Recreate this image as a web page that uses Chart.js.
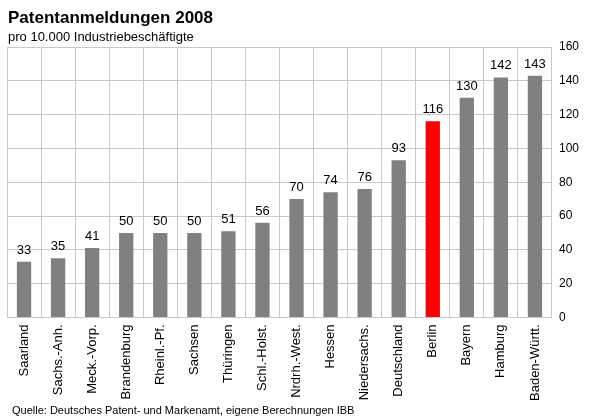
<!DOCTYPE html>
<html>
<head>
<meta charset="utf-8">
<script src="https://cdn.jsdelivr.net/npm/chart.js@4/dist/chart.umd.min.js"></script>
<style>
html,body{margin:0;padding:0;background:#fff;}
#wrap{width:592px;height:417px;position:relative;}
</style>
</head>
<body>
<div id="wrap"><canvas id="c" width="592" height="417"></canvas></div>
<script>
const categories = ["Saarland","Sachs.-Anh.","Meck.-Vorp.","Brandenburg","Rheinl.-Pf.","Sachsen","Thüringen","Schl.-Holst.","Nrdrh.-West.","Hessen","Niedersachs.","Deutschland","Berlin","Bayern","Hamburg","Baden-Württ."];
const values = [33,35,41,50,50,50,51,56,70,74,76,93,116,130,142,143];
const yTicks = [0,20,40,60,80,100,120,140,160];
const titleText = "Patentanmeldungen 2008";
const subtitleText = "pro 10.000 Industriebeschäftigte";
const sourceText = "Quelle: Deutsches Patent- und Markenamt, eigene Berechnungen IBB";
const highlight = "Berlin";

const FONT = "'Liberation Sans', Arial, sans-serif";
const barColors = categories.map(c => c === highlight ? "#ff0000" : "#808080");

const textPlugin = {
  id: 'texts',
  afterDraw(chart) {
    const ctx = chart.ctx;
    ctx.save();
    ctx.fillStyle = '#000';
    ctx.textBaseline = 'alphabetic';
    ctx.textAlign = 'left';
    ctx.font = "bold 17px " + FONT;
    ctx.fillText(titleText, 8, 23);
    ctx.font = "13px " + FONT;
    ctx.fillText(subtitleText, 8, 41);
    ctx.font = "11px " + FONT;
    ctx.fillText(sourceText, 12, 414);
    // data labels
    ctx.font = "13px " + FONT;
    ctx.textAlign = 'center';
    const meta = chart.getDatasetMeta(0);
    meta.data.forEach((bar, i) => {
      ctx.fillText(String(values[i]), bar.x, bar.y - 8);
    });
    ctx.restore();
  }
};

new Chart(document.getElementById('c'), {
  type: 'bar',
  data: {
    labels: categories,
    datasets: [{
      data: values,
      backgroundColor: barColors,
      borderWidth: 0,
      barPercentage: 0.42,
      categoryPercentage: 1.0
    }]
  },
  options: {
    responsive: false,
    animation: false,
    devicePixelRatio: 1,
    layout: { padding: { left: 7, right: 6, top: 47, bottom: 9 } },
    plugins: { legend: { display: false }, tooltip: { enabled: false } },
    scales: {
      x: {
        grid: { color: '#c8c8c8', lineWidth: 1, drawTicks: false, offset: true },
        border: { color: '#c8c8c8' },
        ticks: { color: '#000', font: { family: FONT, size: 13 }, maxRotation: 90, minRotation: 90, padding: 7, autoSkip: false }
      },
      y: {
        position: 'right',
        min: 0, max: 160,
        afterBuildTicks(axis) { axis.ticks = yTicks.map(v => ({ value: v })); },
        grid: { color: '#c8c8c8', lineWidth: 1, drawTicks: false },
        border: { color: '#c8c8c8' },
        ticks: { color: '#000', font: { family: FONT, size: 12 }, padding: 7 }
      }
    }
  },
  plugins: [textPlugin]
});
</script>
</body>
</html>
